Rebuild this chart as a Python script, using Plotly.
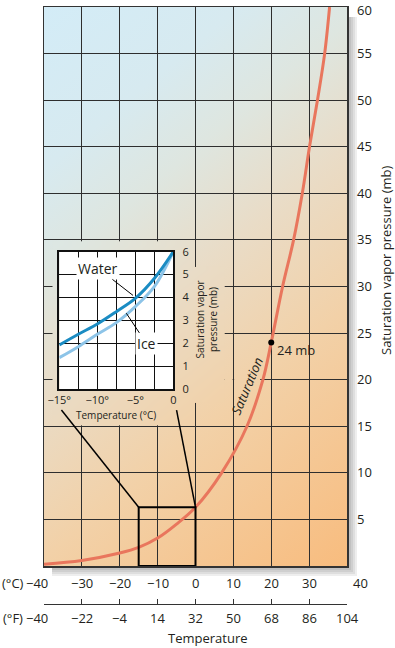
import base64
import numpy as np
import plotly.graph_objects as go

# ---------------- data ----------------
SAT_T = [-40, -30, -20, -15, -10, -5, 0, 6.9, 13.6, 17.8, 20, 23.0, 25.9, 28.2, 30.1, 32.2, 34.1, 35.4]
SAT_E = [0.2, 0.6, 1.4, 2.0, 3.0, 4.5, 6.3, 10, 15, 20, 24, 30, 35, 40, 45, 50, 55, 60]

POINT_T = [20]
POINT_E = [24]
POINT_LABEL = ["24 mb"]

C_TICKS = [-40, -30, -20, -10, 0, 10, 20, 30, 40]
C_LABELS = ["−40", "−30", "−20", "−10", "0", "10", "20", "30", "40"]
F_TICKS = [-40, -22, -4, 14, 32, 50, 68, 86, 104]
F_LABELS = ["−40", "−22", "−4", "14", "32", "50", "68", "86", "104"]
Y_TICKS = [0, 5, 10, 15, 20, 25, 30, 35, 40, 45, 50, 55, 60]
Y_LABELS = ["", "5", "10", "15", "20", "25", "30", "35", "40", "45", "50", "55", "60"]

INSET_T = [-15, -12.5, -10, -7.5, -5, -2.5, 0]
INSET_WATER = [1.92, 2.39, 2.84, 3.38, 3.96, 4.83, 6.0]
INSET_ICE = [1.37, 1.85, 2.39, 2.9, 3.6, 4.47, 6.0]
INSET_X_TICKS = [-15, -12.5, -10, -7.5, -5, -2.5, 0]
INSET_X_LABELS = ["−15°", "", "−10°", "", "−5°", "", "0"]
INSET_Y_TICKS = [0, 1, 2, 3, 4, 5, 6]
INSET_Y_LABELS = ["0", "1", "2", "3", "4", "5", "6"]

# ---------------- styling ----------------
FONT = "Open Sans"
INK = "#231f20"
GRID = "#2e2e2e"
CURVE = "#e9765d"
WATER_C = "#1b8cc3"
ICE_C = "#8dc4e8"

W, H = 395, 648
ML, MR, MT, MB = 44, 48, 7, 30
PW = W - ML - MR          # 303
PH = H - MT - MB          # 611 paper height
PLOT_BOTTOM_PX = 566
Y0 = (H - MB - PLOT_BOTTOM_PX) / PH
PLOT_H_PX = PLOT_BOTTOM_PX - MT


def py2paper(py):
    return (H - MB - py) / PH


def px2paper(px):
    return (px - ML) / PW


STOPS = [(0.0, "#d3ecf7"), (0.2, "#d7eaf0"), (0.33, "#dee6e0"),
         (0.48, "#e9dcc7"), (0.68, "#f2d1a8"), (1.0, "#f8bc7e")]
SLOPE_U = 0.45


def bg_t(T, e):
    u = (T + 40) / 80.0
    v = (60 - e) / 60.0
    return (v + SLOPE_U * u) / (1 + SLOPE_U)


# gradient background image (svg)
gx, gy = SLOPE_U / PW, 1.0 / PLOT_H_PX
k = (1 + SLOPE_U) / (gx * gx + gy * gy)
x2, y2 = gx * k, gy * k
stop_svg = "".join(f'<stop offset="{o}" stop-color="{c}"/>' for o, c in STOPS)
svg = (f'<svg xmlns="http://www.w3.org/2000/svg" width="{PW}" height="{PLOT_H_PX}" '
       f'viewBox="0 0 {PW} {PLOT_H_PX}" preserveAspectRatio="none"><defs>'
       f'<linearGradient id="g" gradientUnits="userSpaceOnUse" x1="0" y1="0" x2="{x2:.2f}" y2="{y2:.2f}">'
       f'{stop_svg}</linearGradient></defs>'
       f'<rect x="0" y="0" width="{PW}" height="{PLOT_H_PX}" fill="url(#g)"/></svg>')
svg_uri = "data:image/svg+xml;base64," + base64.b64encode(svg.encode()).decode()

fig = go.Figure()


def patch(x0, x1, y0, y1, n=30):
    xe = np.linspace(x0, x1, n + 1)
    ye = np.linspace(y0, y1, n + 1)
    xc = (xe[:-1] + xe[1:]) / 2
    yc = (ye[:-1] + ye[1:]) / 2
    z = [[bg_t(xx, yy) for xx in xc] for yy in yc]
    fig.add_trace(go.Heatmap(x=xe, y=ye, z=z, zmin=0, zmax=1, zsmooth="best",
                             colorscale=[[o, c] for o, c in STOPS], showscale=False,
                             hoverinfo="skip", xaxis="x", yaxis="y"))


# knock-out areas around the inset (grid hidden)
patch(-37.7, 7.7, 17.5, 32.1)
patch(-37.7, -0.8, 15.1, 34.85)
patch(7.7, 9.8, 19.6, 20.4, n=4)
patch(10.2, 17.0, 19.6, 20.4, n=8)

# saturation curve
fig.add_trace(go.Scatter(x=SAT_T, y=SAT_E, mode="lines",
                         line=dict(color=CURVE, width=3, shape="spline", smoothing=1.0),
                         hoverinfo="skip", xaxis="x", yaxis="y"))
fig.add_trace(go.Scatter(x=POINT_T, y=POINT_E, mode="markers",
                         marker=dict(color="black", size=6), hoverinfo="skip",
                         xaxis="x", yaxis="y"))
# dummy for fahrenheit axis
fig.add_trace(go.Scatter(x=[F_TICKS[0], F_TICKS[-1]], y=[None, None], mode="lines",
                         xaxis="x2", yaxis="y", hoverinfo="skip"))

# inset curves
fig.add_trace(go.Scatter(x=INSET_T, y=INSET_ICE, mode="lines",
                         line=dict(color=ICE_C, width=3, shape="spline"),
                         xaxis="x3", yaxis="y3", hoverinfo="skip"))
fig.add_trace(go.Scatter(x=INSET_T, y=INSET_WATER, mode="lines",
                         line=dict(color=WATER_C, width=3, shape="spline"),
                         xaxis="x3", yaxis="y3", hoverinfo="skip"))

# inset domain
IX0, IX1 = px2paper(59.3), px2paper(173.3)
IY0, IY1 = py2paper(389), py2paper(251.7)

# the top label ("60") is written as an annotation nudged down so it stays inside the page
axis_labels = Y_LABELS[:-1] + [""]

fig.update_layout(
    width=W, height=H,
    margin=dict(l=ML, r=MR, t=MT, b=MB, autoexpand=False),
    paper_bgcolor="white", plot_bgcolor="rgba(0,0,0,0)",
    showlegend=False,
    font=dict(family=FONT, size=13, color=INK),
    xaxis=dict(domain=[0, 1], range=[-40, 40], tickvals=C_TICKS, showticklabels=False,
               ticks="", showgrid=True, gridcolor=GRID, gridwidth=1, zeroline=False,
               showline=True, mirror=True, linecolor="#333", linewidth=1.5, anchor="y",
               fixedrange=True, automargin=False),
    yaxis=dict(domain=[Y0, 1], range=[0, 60], tickvals=Y_TICKS, ticktext=axis_labels,
               side="right", ticks="", showgrid=True, gridcolor=GRID, gridwidth=1,
               zeroline=False, showline=True, mirror=True, linecolor="#333", linewidth=1.5,
               anchor="x", ticklabelstandoff=6, tickfont=dict(size=13, color=INK),
               ticklabeloverflow="allow", fixedrange=True, automargin=False),
    xaxis2=dict(overlaying="x", anchor="free", position=py2paper(604), range=[-40, 104],
                tickvals=F_TICKS, showticklabels=False, ticks="inside", ticklen=5,
                tickwidth=1.2, tickcolor="#333", showline=True, linecolor="#333",
                linewidth=1.2, showgrid=False, zeroline=False, side="bottom",
                fixedrange=True, automargin=False),
    xaxis3=dict(domain=[IX0, IX1], range=[-15, 0], anchor="y3", tickvals=INSET_X_TICKS,
                ticktext=INSET_X_LABELS, ticks="", showgrid=True, gridcolor="#111",
                gridwidth=1, zeroline=False, showline=True, mirror=True, linecolor="#111",
                linewidth=2, tickfont=dict(size=11, color=INK), ticklabelstandoff=0,
                fixedrange=True, automargin=False),
    yaxis3=dict(domain=[IY0, IY1], range=[0, 6], anchor="x3", side="right",
                tickvals=INSET_Y_TICKS, ticktext=INSET_Y_LABELS, ticks="", showgrid=True,
                gridcolor="#111", gridwidth=1, zeroline=False, showline=True, mirror=True,
                linecolor="#111", linewidth=2, tickfont=dict(size=11, color=INK),
                ticklabelstandoff=5, fixedrange=True, automargin=False),
)

fig.add_layout_image(dict(source=svg_uri, xref="x", yref="y", x=-40, y=60, sizex=80, sizey=60,
                          xanchor="left", yanchor="top", sizing="stretch", layer="below"))

shapes = []
# drop shadow
for s in [2, 4, 6, 8, 10]:
    shapes.append(dict(type="rect", xref="paper", yref="paper", layer="below",
                       x0=px2paper(ML + 8), x1=px2paper(347 + s),
                       y0=py2paper(566 + s), y1=py2paper(MT + 10),
                       fillcolor="rgba(0,0,0,0.065)", line=dict(width=0)))
# inset white background
shapes.append(dict(type="rect", xref="x3", yref="y3", layer="below", x0=-15, x1=0, y0=0, y1=6,
                   fillcolor="white", line=dict(width=0)))
# zoom box and connectors
box_top = SAT_E[SAT_T.index(0)]
shapes.append(dict(type="rect", xref="x", yref="y", layer="above", x0=-15, x1=0, y0=0,
                   y1=box_top, line=dict(color="black", width=2)))
shapes.append(dict(type="line", xref="x", yref="y", layer="above", x0=-35.4, y0=16.74,
                   x1=-15, y1=box_top, line=dict(color="black", width=1.5)))
shapes.append(dict(type="line", xref="x", yref="y", layer="above", x0=-5.0, y0=16.74,
                   x1=0, y1=box_top, line=dict(color="black", width=1.5)))
fig.update_layout(shapes=shapes)

ann = []
# top y label
ann.append(dict(x=px2paper(355), xref="paper", y=Y_TICKS[-1], yref="y", text=Y_LABELS[-1],
                showarrow=False, xanchor="left", yanchor="middle", yshift=-3,
                font=dict(size=13)))
C_ROW_Y = py2paper(583)
F_ROW_Y = py2paper(618)
for i, (t, lab) in enumerate(zip(C_TICKS, C_LABELS)):
    shift = -7 if i == 0 else (13 if i == len(C_TICKS) - 1 else 0)
    ann.append(dict(x=t, xref="x", y=C_ROW_Y, yref="paper", text=lab, showarrow=False,
                    xanchor="center", yanchor="middle", xshift=shift))
for i, (t, lab) in enumerate(zip(F_TICKS, F_LABELS)):
    shift = -7 if i == 0 else 0
    ann.append(dict(x=t, xref="x2", y=F_ROW_Y, yref="paper", text=lab, showarrow=False,
                    xanchor="center", yanchor="middle", xshift=shift))
ann.append(dict(x=px2paper(12.5), xref="paper", y=C_ROW_Y, yref="paper", text="(°C)",
                showarrow=False, xanchor="center", yanchor="middle"))
ann.append(dict(x=px2paper(12.5), xref="paper", y=F_ROW_Y, yref="paper", text="(°F)",
                showarrow=False, xanchor="center", yanchor="middle"))
ann.append(dict(x=px2paper(208), xref="paper", y=py2paper(638), yref="paper",
                text="Temperature", showarrow=False, xanchor="center", yanchor="middle"))
ann.append(dict(x=px2paper(386), xref="paper", y=py2paper(260), yref="paper",
                text="Saturation vapor pressure (mb)", textangle=-90, showarrow=False,
                xanchor="center", yanchor="middle"))
ann.append(dict(x=POINT_T[0], y=POINT_E[0], xref="x", yref="y", text=POINT_LABEL[0],
                showarrow=False, xanchor="left", yanchor="middle", xshift=4, yshift=-8))
ann.append(dict(x=13.6, y=19.3, xref="x", yref="y", text="<i>Saturation</i>",
                textangle=-67, showarrow=False, xanchor="center", yanchor="middle"))
# inset labels
ann.append(dict(x=-5.3, y=4.09, xref="x3", yref="y3", ax=-9.87, ay=5.27, axref="x3",
                ayref="y3", text="Water", showarrow=True, arrowhead=0, arrowwidth=1,
                arrowcolor="black", bgcolor="white", standoff=0, font=dict(size=14)))
ann.append(dict(x=-6.18, y=3.31, xref="x3", yref="y3", ax=-3.5, ay=1.97, axref="x3",
                ayref="y3", text="Ice", showarrow=True, arrowhead=0, arrowwidth=1,
                arrowcolor="black", bgcolor="white", standoff=0, font=dict(size=14)))
ann.append(dict(x=px2paper(116), y=py2paper(415), xref="paper", yref="paper",
                text="Temperature (°C)", showarrow=False, xanchor="center", yanchor="middle",
                font=dict(size=10)))
ann.append(dict(x=px2paper(206.5), y=py2paper(320), xref="paper", yref="paper",
                text="Saturation vapor<br>pressure (mb)", textangle=-90, showarrow=False,
                xanchor="center", yanchor="middle", font=dict(size=10)))
fig.update_layout(annotations=ann)

fig.write_html("out.html", config={"displayModeBar": False, "staticPlot": True},
               post_script="document.body.style.margin='0';document.body.style.overflow='hidden';")
